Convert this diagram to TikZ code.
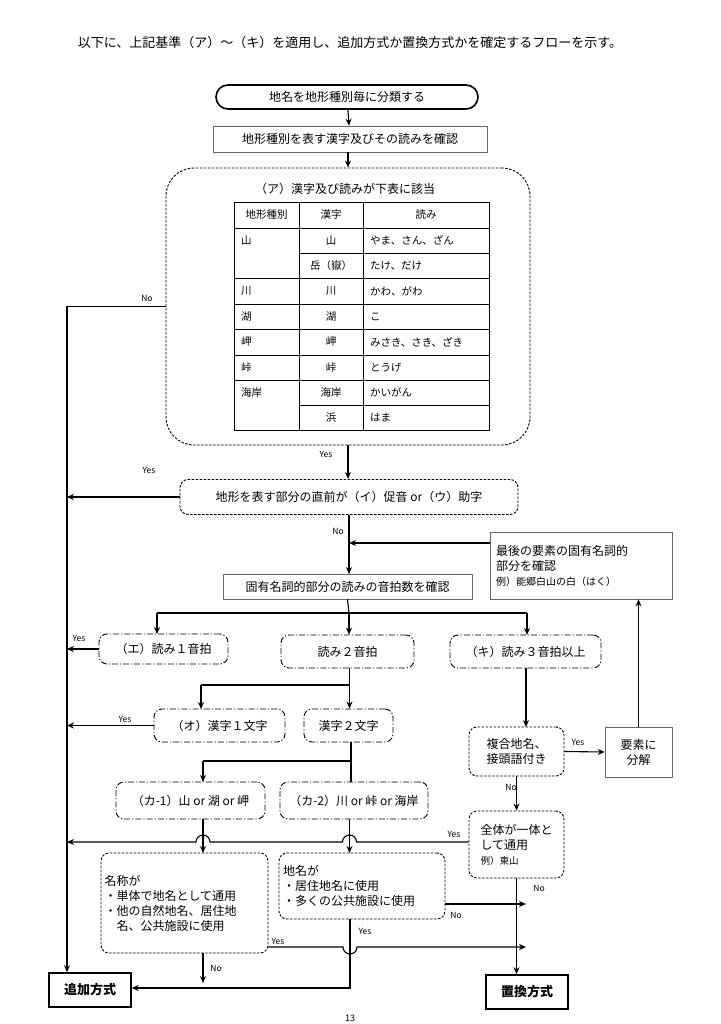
\documentclass[tikz,border=0pt]{standalone}
\usepackage{fontspec}
\setmainfont{Noto Sans CJK JP}
\usetikzlibrary{arrows.meta}
\begin{document}
\begin{tikzpicture}[x=1pt,y=-1pt,
  every node/.style={font=\fontsize{12}{15}\selectfont},
  box/.style={draw=black!60, line width=0.7pt, inner sep=0pt, align=center},
  dsh/.style={draw, dash pattern=on 2.5pt off 1.5pt, rounded corners=8pt, line width=0.9pt, inner sep=0pt, align=center},
  dd/.style={draw, dash pattern=on 6pt off 2pt on 1.2pt off 2pt, rounded corners=8pt, line width=0.9pt, inner sep=0pt, align=center},
  term/.style={draw, line width=1.6pt, inner sep=0pt, align=center, font=\fontsize{13}{15}\selectfont\bfseries},
  arr/.style={-{Stealth[length=7pt,width=6pt]}, line width=1.1pt},
  ln/.style={line width=1.1pt},
  lab/.style={font=\fontsize{8.5}{10}\selectfont, inner sep=1pt},
  tb/.style={font=\fontsize{10.5}{12}\selectfont, inner sep=0pt}]
\useasboundingbox (0,0) rectangle (720,1024);
\fill[white] (0,0) rectangle (720,1024);

\node[font=\fontsize{13}{15}\selectfont] (title) at (350,43) {以下に、上記基準（ア）～（キ）を適用し、追加方式か置換方式かを確定するフローを示す。};

\node[draw, line width=1.6pt, rounded corners=12pt, minimum width=262pt, minimum height=24pt, inner sep=0pt] (start) at (347,97) {地名を地形種別毎に分類する};
\node[box, minimum width=274pt, minimum height=26pt] (b2) at (350,139) {地形種別を表す漢字及びその読みを確認};

\node[dsh, rounded corners=28pt, minimum width=364pt, minimum height=277pt] (a) at (348,306.5) {};
\node (atitle) at (345,189) {（ア）漢字及び読みが下表に該当};

% table
\begin{scope}[line width=0.8pt]
\draw (234,202) rectangle (489,430);
\draw (299,202) -- (299,430) (363,202) -- (363,430);
\foreach \yy in {228,278,304,329,355,380} \draw (234,\yy) -- (489,\yy);
\foreach \yy in {253,405} \draw (299,\yy) -- (489,\yy);
\end{scope}
\node[tb] (h1) at (266.5,215) {地形種別};
\node[tb] (h2) at (331,215) {漢字};
\node[tb] (h3) at (426,215) {読み};
\foreach \i/\c/\k/\r in {0/山/山/やま、さん、ざん, 1//岳（嶽）/たけ、だけ, 2/川/川/かわ、がわ, 3/湖/湖/こ, 4/岬/岬/みさき、さき、ざき, 5/峠/峠/とうげ, 6/海岸/海岸/かいがん, 7//浜/はま}{
  \node[tb, anchor=west] (c1\i) at (241,240.5+25.33*\i) {\c};
  \node[tb] (c2\i) at (331,240.5+25.33*\i) {\k};
  \node[tb, anchor=west] (c3\i) at (370,240.5+25.33*\i) {\r};
}

\node[dsh, minimum width=338pt, minimum height=35pt] (i) at (349,497) {地形を表す部分の直前が（イ）促音 or（ウ）助字};
\node[box, minimum width=182pt, minimum height=67pt, align=left, text width=170pt] (last) at (581,565.5) {最後の要素の固有名詞的\\部分を確認\\{\fontsize{10}{12}\selectfont 例）能郷白山の白（はく）}};
\node[box, minimum width=249pt, minimum height=25pt] (k) at (347.5,587) {固有名詞的部分の読みの音拍数を確認};

\node[dd, minimum width=129pt, minimum height=30pt] (e) at (163.5,649) {（エ）読み１音拍};
\node[dd, minimum width=133pt, minimum height=33pt] (r2) at (347.5,651.5) {読み２音拍};
\node[dd, minimum width=151pt, minimum height=33pt] (ki) at (525.5,651.5) {（キ）読み３音拍以上};

\node[dd, minimum width=131pt, minimum height=33pt] (o) at (219.5,725.5) {（オ）漢字１文字};
\node[dd, minimum width=89pt, minimum height=33pt] (k2) at (348.5,725.5) {漢字２文字};
\node[dd, minimum width=149pt, minimum height=37pt] (ka1) at (190.5,800.5) {（カ-1）山 or 湖 or 岬};
\node[dd, minimum width=148pt, minimum height=37pt] (ka2) at (354,800.5) {（カ-2）川 or 峠 or 海岸};

\node[dsh, minimum width=95pt, minimum height=49pt] (f) at (516.5,751.5) {複合地名、\\接頭語付き};
\node[box, minimum width=67pt, minimum height=50pt] (y) at (638.5,752) {要素に\\分解};
\node[dsh, minimum width=95pt, minimum height=67pt, align=left] (w) at (516.5,844.5) {全体が一体と\\して通用\\{\fontsize{9.5}{11}\selectfont 例）東山}};

\node[dsh, minimum width=167pt, minimum height=100pt, align=left, text width=160pt] (m) at (184.5,903) {名称が\\・単体で地名として通用\\・他の自然地名、居住地\\\hspace*{1em}名、公共施設に使用};
\node[dsh, minimum width=166pt, minimum height=66pt, align=left, text width=158pt] (p) at (362,886) {地名が\\・居住地名に使用\\・多くの公共施設に使用};

\node[term, minimum width=82pt, minimum height=34pt] (add) at (90,990) {追加方式};
\node[term, minimum width=82pt, minimum height=34pt] (rep) at (527,992) {置換方式};

\node[font=\fontsize{9}{10}\selectfont, inner sep=0pt] (pg) at (350,1018) {13};

% connectors
\draw[arr] (start) -- (b2);
\draw[arr] (b2.south -| a.north) -- (a.north);
\coordinate (L1) at (67,306.5);
\draw[arr] (a.west) -- (L1) -- (L1 |- add.north);
\node[lab] at (147,298) {No};
\draw[arr] (a.south) -- (a.south |- i.north);
\node[lab] at (326,454) {Yes};
\draw[arr] (i.west) -- (i.west -| L1);
\node[lab] at (149,470) {Yes};
\draw[arr] (i.south) -- (i.south |- k.north);
\node[lab] at (338,531) {No};
\coordinate (J1) at (349,543);
\draw[arr] (last.west |- J1) -- (J1);

\coordinate (B1) at (349,613);
\draw[ln] (k.south |- 0,599) -- (B1);
\draw[ln] (157,613) -- (527,613);
\draw[arr] (157,613) -- (157 ,634);
\draw[arr] (B1) -- (B1 |- r2.north);
\draw[arr] (527,613) -- (527,635);
\draw[arr] (e.west) -- (e.west -| L1);
\node[lab] at (79,638) {Yes};

\coordinate (B2) at (349.5,685);
\draw[ln] (r2.south -| B2) -- (B2) -- (201,685);
\draw[arr] (201,685) -- (201,709);
\draw[arr] (B2) -- (B2 |- k2.north);
\draw[arr] (o.west) -- (o.west -| L1);
\node[lab] at (125,719) {Yes};

\coordinate (B3) at (351,761);
\draw[ln] (k2.south -| B3) -- (B3) -- (203,761);
\draw[arr] (203,761) -- (203,782);
\draw[ln] (B3) -- (B3 |- ka2.north);

\draw[arr] (526,668) -- (526,727);
\draw[arr] (f.east) -- (y.west);
\node[lab] at (578,742) {Yes};
\draw[arr] (y.north) -- (y.north |- last.south);
\draw[arr] (f.south) -- (f.south |- w.north);
\node[lab] at (511,787) {No};

% Yes from w with jumps
\draw[arr] (w.west |- 0,842) -- (356.5,842) arc[start angle=0, end angle=-180, radius=7] -- (210,842) arc[start angle=0, end angle=-180, radius=7] -- (L1 |- 0,842);
\node[lab] at (454,834) {Yes};

\draw[arr] (203,819) -- (203,853);
\draw[arr] (349.5,819) -- (349.5,853);

\draw[arr] (w.south |- 0,878) -- (w.south |- rep.north);
\node[lab] at (539,888) {No};

\draw[arr] (p.east |- 0,904) -- (526,904);
\node[lab] at (456,915) {No};

\draw[arr] (m.east |- 0,947) -- (343,947) arc[start angle=180, end angle=0, radius=7] -- (526,947);
\node[lab] at (278,941) {Yes};

\draw[arr] (350,919) -- (350,988) -- (add.east |- 0,988);
\node[lab] at (365,931) {Yes};

\draw[arr] (203,953) -- (203,983);
\node[lab] at (216,968) {No};
\end{tikzpicture}
\end{document}
